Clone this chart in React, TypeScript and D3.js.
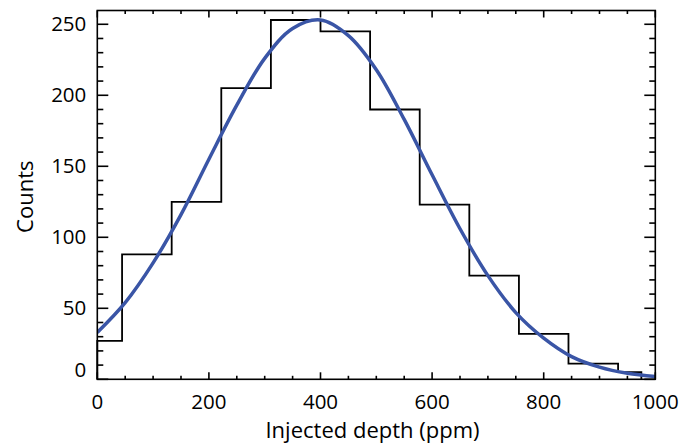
import * as React from "react";
import * as d3 from "d3";

// histogram bin edges (ppm) and counts
const binEdges: number[] = [0, 44.4, 133.3, 222.2, 311.1, 400, 488.9, 577.8, 666.7, 755.6, 844.4, 933.3, 975];
const counts: number[] = [27, 88, 125, 205, 253, 245, 190, 123, 73, 32, 11, 5];

// fitted curve
const fitX: number[] = [0, 50, 100, 150, 200, 250, 300, 350, 400, 450, 500, 550, 600, 650, 700, 750, 800, 850, 900, 950, 1000];
const fitY: number[] = [33, 54, 82, 116, 155, 193, 226, 247, 253, 242, 218, 183, 144, 106, 73, 47, 29, 16, 8.6, 4.3, 2];

const xTicks: number[] = [0, 200, 400, 600, 800, 1000];
const yTicks: number[] = [0, 50, 100, 150, 200, 250];

const W = 696;
const H = 443;
const margin = { top: 10.5, right: 40.7, bottom: 63.7, left: 97.3 };
const font = "'Open Sans', 'DejaVu Sans', sans-serif";

export default function App(): JSX.Element {
    const ref = React.useRef<SVGSVGElement>(null);

    React.useEffect(() => {
        const svg = d3.select(ref.current);
        svg.selectAll("*").remove();

        const iw = W - margin.left - margin.right;
        const ih = H - margin.top - margin.bottom;
        const x = d3.scaleLinear().domain([0, 1000]).range([0, iw]);
        const y = d3.scaleLinear().domain([0, 259.7]).range([ih, 0]);

        const g = svg.append("g").attr("transform", `translate(${margin.left},${margin.top})`);

        g.append("defs").append("clipPath").attr("id", "plotclip")
            .append("rect").attr("width", iw).attr("height", ih);

        // histogram outline
        const pts: [number, number][] = [[x(binEdges[0]), y(0)]];
        counts.forEach((c, i) => {
            pts.push([x(binEdges[i]), y(c)]);
            pts.push([x(binEdges[i + 1]), y(c)]);
        });
        pts.push([x(binEdges[binEdges.length - 1]), y(0)]);
        g.append("path")
            .attr("d", d3.line()(pts))
            .attr("fill", "none")
            .attr("stroke", "#000")
            .attr("stroke-width", 1.8)
            .attr("stroke-linejoin", "miter");

        // fit curve
        const line = d3.line<number>()
            .x((_, i) => x(fitX[i]))
            .y((d) => y(d))
            .curve(d3.curveCatmullRom.alpha(0.5));
        g.append("path")
            .attr("d", line(fitY))
            .attr("clip-path", "url(#plotclip)")
            .attr("fill", "none")
            .attr("stroke", "#3a55a6")
            .attr("stroke-width", 3.5);

        // frame
        g.append("rect")
            .attr("width", iw).attr("height", ih)
            .attr("fill", "none").attr("stroke", "#000").attr("stroke-width", 1.6);

        // x ticks (inward, bottom and top)
        const xMinor = d3.range(0, 1001, 50);
        xMinor.forEach((v) => {
            const major = v % 200 === 0;
            const len = major ? 7 : 3.5;
            g.append("line").attr("x1", x(v)).attr("x2", x(v)).attr("y1", ih).attr("y2", ih - len)
                .attr("stroke", "#000").attr("stroke-width", 1.6);
            g.append("line").attr("x1", x(v)).attr("x2", x(v)).attr("y1", 0).attr("y2", len)
                .attr("stroke", "#000").attr("stroke-width", 1.6);
        });
        // y ticks (inward, left and right)
        const yMinor = d3.range(0, 251, 10);
        yMinor.forEach((v) => {
            const major = v % 50 === 0;
            const len = major ? 11 : 6;
            g.append("line").attr("x1", 0).attr("x2", len).attr("y1", y(v)).attr("y2", y(v))
                .attr("stroke", "#000").attr("stroke-width", 1.6);
            g.append("line").attr("x1", iw).attr("x2", iw - len).attr("y1", y(v)).attr("y2", y(v))
                .attr("stroke", "#000").attr("stroke-width", 1.6);
        });

        // tick labels
        g.selectAll(".xl").data(xTicks).enter().append("text")
            .attr("x", (d) => x(d)).attr("y", ih + 29.5)
            .attr("text-anchor", "middle")
            .attr("font-family", font).attr("font-size", 20.5)
            .text((d) => String(d));
        g.selectAll(".yl").data(yTicks).enter().append("text")
            .attr("x", -11).attr("y", (d) => (d === 0 ? y(d) - 9 : y(d)))
            .attr("dy", "0.35em")
            .attr("text-anchor", "end")
            .attr("font-family", font).attr("font-size", 20.5)
            .text((d) => String(d));

        // axis titles
        svg.append("text")
            .attr("x", 372.5).attr("y", 437.5)
            .attr("text-anchor", "middle")
            .attr("font-family", font).attr("font-size", 22)
            .text("Injected depth (ppm)");
        svg.append("text")
            .attr("transform", `translate(33,196.7) rotate(-90)`)
            .attr("text-anchor", "middle")
            .attr("font-family", font).attr("font-size", 22)
            .text("Counts");
    }, []);

    return (
        <svg ref={ref} width={W} height={H} style={{ position: "absolute", left: 0, top: 0, background: "#fff" }} />
    );
}
